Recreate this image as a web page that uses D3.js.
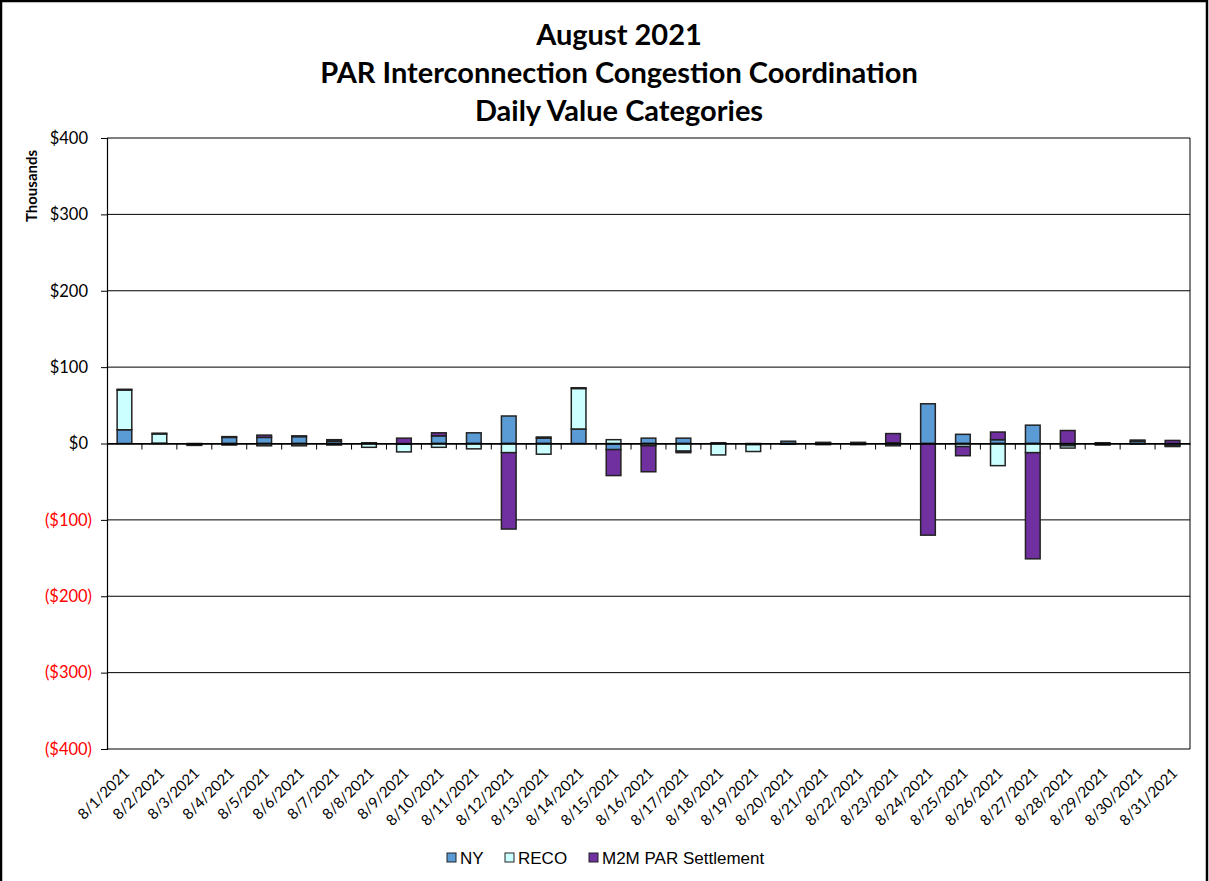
<!DOCTYPE html>
<html>
<head>
<meta charset="utf-8">
<script src="https://cdn.jsdelivr.net/npm/d3@7"></script>
<style>
  body { margin: 0; background: #fff; }
  svg { display: block; }
</style>
</head>
<body>
<div id="chart"></div>
<script>
const days = ["8/1/2021", "8/2/2021", "8/3/2021", "8/4/2021", "8/5/2021", "8/6/2021", "8/7/2021", "8/8/2021",
  "8/9/2021", "8/10/2021", "8/11/2021", "8/12/2021", "8/13/2021", "8/14/2021", "8/15/2021", "8/16/2021",
  "8/17/2021", "8/18/2021", "8/19/2021", "8/20/2021", "8/21/2021", "8/22/2021", "8/23/2021", "8/24/2021",
  "8/25/2021", "8/26/2021", "8/27/2021", "8/28/2021", "8/29/2021", "8/30/2021", "8/31/2021"];

// values in $ thousands
const ny = [18, 0.5, -0.5, 8, 8, 9, 3, 1, -1, 10, 14, 36, 7, 19, -8, 7,
  7, 1, -1.5, 3, 1, 1, -3, 52, 12, 5, 24, -3, 1, 3, -3];
const reco = [52, 12, -0.5, -2, -3, -3, -2, -5, -10, -5, -7, -12, -14, 53, 5, -3,
  -10, -15, -9, -1, -1.5, -1.5, 1, 0, -4, -29, -12, -3, -1, -0.5, -1];
const m2m = [1, 1, -1.5, 1, 3, 1, 2, 0, 7, 4, 0, -100, 1.5, 1, -34, -34,
  -2, 0, 0, 0, 0.5, 0.5, 12, -120, -12, 10, -139, 17, -1, 1.5, 4];

const seriesNames = ["NY", "RECO", "M2M PAR Settlement"];
const seriesKeys = ["ny", "reco", "m2m"];
const colors = ["#5B9BD5", "#CCFFFF", "#7030A0"];
const yTicks = [-400, -300, -200, -100, 0, 100, 200, 300, 400];
const titleLines = ["August 2021", "PAR Interconnection Congestion Coordination", "Daily Value Categories"];

const W = 1209, H = 881;
const plot = { left: 107, right: 1190, top: 138, bottom: 749 };
const font = "Lato, 'Open Sans', sans-serif";

const rows = days.map((d, i) => ({ day: d, ny: ny[i], reco: reco[i], m2m: m2m[i] }));

const svg = d3.select("#chart").append("svg")
  .attr("width", W)
  .attr("height", H);

svg.append("rect")
  .attr("x", 1).attr("y", 1)
  .attr("width", W - 3).attr("height", H + 10)
  .attr("fill", "#fff")
  .attr("stroke", "#000")
  .attr("stroke-width", 2.5);

// title
svg.append("g").selectAll("text")
  .data(titleLines)
  .enter()
  .append("text")
  .attr("x", 619)
  .attr("y", (d, i) => 45 + i * 38)
  .attr("text-anchor", "middle")
  .attr("font-family", font)
  .attr("font-weight", "bold")
  .attr("font-size", 29)
  .attr("fill", "#000")
  .text((d) => d);

const x = d3.scaleBand()
  .domain(days)
  .range([plot.left, plot.right])
  .paddingInner(0.58)
  .paddingOuter(0.29);

const y = d3.scaleLinear()
  .domain([-400, 400])
  .range([plot.bottom, plot.top]);

// gridlines
svg.append("g").selectAll("line")
  .data(yTicks)
  .enter()
  .append("line")
  .attr("x1", plot.left).attr("x2", plot.right)
  .attr("y1", (d) => y(d)).attr("y2", (d) => y(d))
  .attr("stroke", "#000")
  .attr("stroke-width", 1);

// right border
svg.append("line")
  .attr("x1", plot.right).attr("x2", plot.right)
  .attr("y1", plot.top).attr("y2", plot.bottom)
  .attr("stroke", "#000");

// stacked bars (positives up, negatives down, like excel)
const stack = d3.stack()
  .keys(seriesKeys)
  .offset(d3.stackOffsetDiverging);
const stacked = stack(rows);

svg.append("g").selectAll("g")
  .data(stacked)
  .enter()
  .append("g")
  .attr("fill", (d, i) => colors[i])
  .selectAll("rect")
  .data((d) => d)
  .enter()
  .append("rect")
  .attr("x", (d) => x(d.data.day))
  .attr("width", x.bandwidth())
  .attr("y", (d) => y(Math.max(d[0], d[1])))
  .attr("height", (d) => Math.abs(y(d[0]) - y(d[1])))
  .attr("stroke", "#222")
  .attr("stroke-width", 1.5);

// y axis
const yAxis = d3.axisLeft(y)
  .tickValues(yTicks)
  .tickSize(6)
  .tickFormat((d) => d < 0 ? `($${-d})` : `$${d}`);

const yg = svg.append("g")
  .attr("transform", `translate(${plot.left},0)`)
  .call(yAxis);
yg.select(".domain").attr("stroke", "#000").attr("stroke-width", 1.2);
yg.selectAll(".tick line").attr("stroke", "#000");
yg.selectAll(".tick text")
  .attr("x", (d) => d < 0 ? -15 : -19)
  .attr("font-family", font)
  .attr("font-size", 16.5)
  .attr("fill", (d) => d < 0 ? "#FF0000" : "#000");

svg.append("text")
  .attr("transform", "translate(37,186) rotate(-90)")
  .attr("text-anchor", "middle")
  .attr("font-family", font)
  .attr("font-weight", "bold")
  .attr("font-size", 15)
  .text("Thousands");

// x axis at zero
const xAxis = d3.axisBottom(x).tickSize(0).tickFormat("");
const xg = svg.append("g")
  .attr("transform", `translate(0,${y(0)})`)
  .call(xAxis);
xg.select(".domain").attr("stroke", "#000").attr("stroke-width", 1.5);

const step = x.step();
svg.append("g").selectAll("line")
  .data(days.slice(1))
  .enter()
  .append("line")
  .attr("x1", (d) => x(d) - (step - x.bandwidth()) / 2)
  .attr("x2", (d) => x(d) - (step - x.bandwidth()) / 2)
  .attr("y1", y(0))
  .attr("y2", y(0) + 6)
  .attr("stroke", "#000");

// category labels
svg.append("g").selectAll("text")
  .data(days)
  .enter()
  .append("text")
  .attr("transform", (d) => `translate(${x(d) + x.bandwidth() / 2 + 6},${plot.bottom + 25}) rotate(-45)`)
  .attr("text-anchor", "end")
  .attr("font-family", font)
  .attr("font-size", 15)
  .text((d) => d);

// legend
const legendX = [447, 505, 589];
const legend = svg.append("g").selectAll("g")
  .data(seriesNames)
  .enter()
  .append("g")
  .attr("transform", (d, i) => `translate(${legendX[i]},853)`);
legend.append("rect")
  .attr("width", 9).attr("height", 9)
  .attr("fill", (d, i) => colors[i])
  .attr("stroke", "#222")
  .attr("stroke-width", 1);
legend.append("text")
  .attr("x", 13)
  .attr("y", 11)
  .attr("font-family", "'Liberation Sans', Arial, sans-serif")
  .attr("font-size", 17)
  .text((d) => d);
</script>
</body>
</html>
